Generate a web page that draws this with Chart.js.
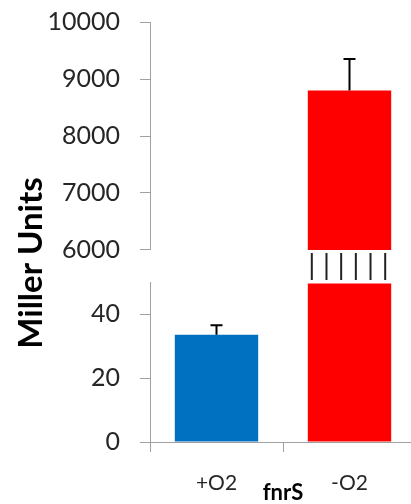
<!DOCTYPE html>
<html lang="en">
<head>
<meta charset="UTF-8">
<title>fnrS - Miller Units</title>
<script src="https://cdn.jsdelivr.net/npm/chart.js"></script>
<style>
  html, body { margin: 0; padding: 0; background: #fff; overflow: hidden; }
  .wrap { position: relative; width: 420px; height: 504px; }
</style>
</head>
<body>
<div class="wrap"><canvas id="myChart"></canvas></div>
<script>
  // data
  const categories = ['+O2', '-O2'];
  const values = [33.5, 8800];
  const errors = [3, 550];
  const barColors = ['#0070C0', '#FF0000'];
  const lowTicks = [0, 20, 40];
  const highTicks = [6000, 7000, 8000, 9000, 10000];
  const lowRange = [0, 50];
  const highRange = [6000, 10000];
  const lowCap = 49.5; // broken bars stop here in the lower panel

  const lowData = values.map(v => v > lowRange[1] ? lowCap : v);
  const highData = values.map(v => v > lowRange[1] ? v : null);

  const axisGray = '#a0a0a0';
  const textColor = '#262626';
  const yWidth = 102;
  // same width for every panel, and no extra room for the end labels
  const fixWidth = (s) => {
    s.width = yWidth;
    s.paddingTop = 0;
    s.paddingBottom = 0;
  };

  const breakBars = {
    id: 'breakBars',
    afterDatasetsDraw(chart) {
      const { ctx, scales } = chart;
      const low = scales.yLow, high = scales.yHigh;
      ctx.save();
      ctx.strokeStyle = '#000';
      ctx.lineWidth = 2;
      values.forEach((v, i) => {
        const broken = v > lowRange[1];
        const scale = broken ? high : low;
        const bar = chart.getDatasetMeta(broken ? 1 : 0).data[i];
        const x = bar.x;
        const y0 = scale.getPixelForValue(v);
        const y1 = scale.getPixelForValue(v + errors[i]);
        ctx.beginPath();
        ctx.moveTo(x, y0);
        ctx.lineTo(x, y1);
        ctx.moveTo(x - 6, y1);
        ctx.lineTo(x + 6, y1);
        ctx.stroke();
        if (broken) {
          // break marks in the gap between the panels
          const left = bar.x - bar.width / 2 + 4;
          const right = bar.x + bar.width / 2 - 6;
          ctx.strokeStyle = '#222';
          for (let k = 0; k < 6; k++) {
            const hx = left + (right - left) * k / 5;
            ctx.beginPath();
            ctx.moveTo(hx, high.bottom + 3);
            ctx.lineTo(hx, low.top - 2);
            ctx.stroke();
          }
          ctx.strokeStyle = '#000';
        }
      });
      ctx.restore();
    }
  };

  const yTicks = {
    color: textColor,
    padding: 20,
    autoSkip: false,
    font: { family: 'Lato', size: 25 },
    callback: (v) => String(v)
  };

  const ctx = document.getElementById('myChart');
  const myChart = new Chart(ctx, {
    type: 'bar',
    data: {
      labels: categories,
      datasets: [{
        data: lowData,
        yAxisID: 'yLow',
        backgroundColor: barColors,
        grouped: false,
        categoryPercentage: 1,
        barPercentage: 0.627
      }, {
        data: highData,
        yAxisID: 'yHigh',
        backgroundColor: barColors,
        grouped: false,
        categoryPercentage: 1,
        barPercentage: 0.627
      }]
    },
    options: {
      responsive: true,
      maintainAspectRatio: false,
      animation: false,
      layout: { padding: { top: 22, right: 4, bottom: 0, left: 0 } },
      plugins: {
        legend: { display: false },
        tooltip: { enabled: false },
        title: {
          display: true,
          text: 'Miller Units',
          position: 'left',
          color: '#000',
          font: { family: 'Lato', size: 33, weight: 'bold', lineHeight: 1 },
          padding: { top: 15, bottom: 0 }
        }
      },
      scales: {
        x: {
          grid: { drawOnChartArea: false, tickLength: 10, color: axisGray },
          border: { color: axisGray },
          ticks: { color: textColor, padding: 19, font: { family: 'Lato', size: 21 } },
          title: {
            display: true,
            text: 'fnrS',
            color: '#000',
            font: { family: 'Lato', size: 22, weight: 'bold', lineHeight: 1 },
            padding: { top: 0, bottom: 0.5 }
          },
          afterFit: (s) => { s.height = 62; }
        },
        yLow: {
          position: 'left',
          stack: 'broken',
          stackWeight: 160,
          min: lowRange[0],
          max: lowRange[1],
          afterBuildTicks: (s) => { s.ticks = lowTicks.map(v => ({ value: v })); },
          grid: { drawOnChartArea: false, tickLength: 10, color: axisGray },
          border: { color: axisGray },
          ticks: yTicks,
          afterFit: fixWidth
        },
        yGap: {
          position: 'left',
          stack: 'broken',
          stackWeight: 32,
          min: 0,
          max: 1,
          grid: { display: false },
          border: { display: false },
          ticks: { display: false },
          afterFit: fixWidth
        },
        yHigh: {
          position: 'left',
          stack: 'broken',
          stackWeight: 228,
          min: highRange[0],
          max: highRange[1],
          afterBuildTicks: (s) => { s.ticks = highTicks.map(v => ({ value: v })); },
          grid: { drawOnChartArea: false, tickLength: 10, color: axisGray },
          border: { color: axisGray },
          ticks: yTicks,
          afterFit: fixWidth
        }
      }
    },
    plugins: [breakBars]
  });
</script>
</body>
</html>
